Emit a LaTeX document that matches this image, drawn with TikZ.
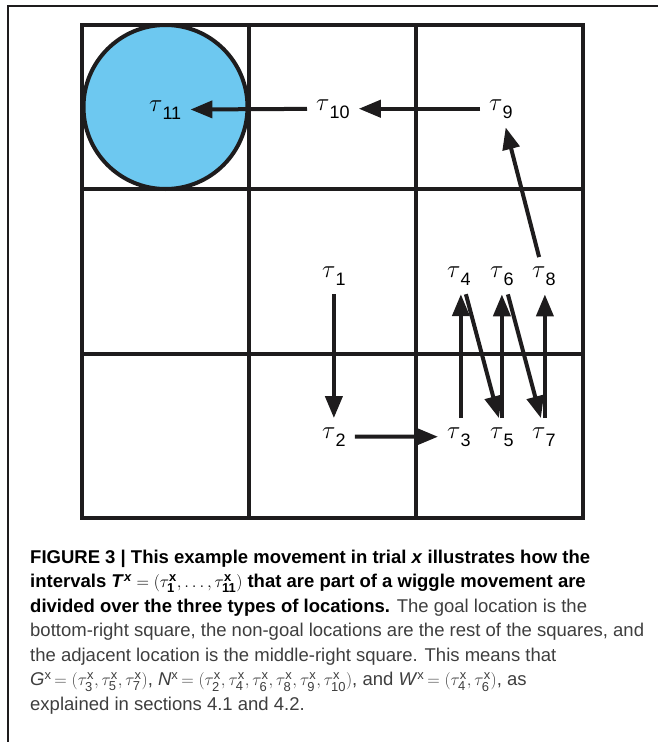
\documentclass[tikz,border=0pt]{standalone}
\usepackage{amsmath}
\usepackage{fontspec}
\setmainfont{Liberation Sans}
\usetikzlibrary{arrows.meta}

% tau label with a sans subscript
\newcommand{\tlab}[1]{$\tau$\raisebox{-8pt}{\fontsize{18}{18}\selectfont #1}}
% caption symbols
\newcommand{\csym}[1]{\textit{#1}$^{\text{x}}$}
\newcommand{\ctau}[1]{\tau^{\text{x}}_{\text{#1}}}

\begin{document}
\begin{tikzpicture}[x=1pt,y=-1pt]
  % colours
  \definecolor{goalblue}{RGB}{109,200,240}
  \definecolor{inkcolor}{RGB}{30,28,29}
  \definecolor{captext}{RGB}{62,62,62}

  % styles
  \tikzstyle{taulabel} = [inner sep=9pt, anchor=base west, font=\fontsize{23}{28}\selectfont]
  \tikzstyle{gridline} = [line width=4pt, inkcolor]
  \tikzstyle{move} = [-{Triangle[length=22pt,width=17pt]}, line width=4pt, inkcolor]

  \useasboundingbox (0,0) rectangle (658,742);

  % frame
  \draw[line width=2pt, inkcolor] (8,742) -- (8,6) -- (658,6);

  % grid of locations
  \draw[gridline] (82,25) rectangle (583,518);
  \foreach \x in {249,416} \draw[gridline] (\x,25) -- (\x,518);
  \foreach \y in {189,354} \draw[gridline] (82,\y) -- (583,\y);

  % goal circle
  \draw[gridline, fill=goalblue] (165.5,107) circle (82pt);

  % intervals
  \node[taulabel] (t1) at (313,277) {\tlab{1}};
  \node[taulabel] (t2) at (313,438) {\tlab{2}};
  \node[taulabel] (t3) at (438,438) {\tlab{3}};
  \node[taulabel] (t4) at (438,277) {\tlab{4}};
  \node[taulabel] (t5) at (481,438) {\tlab{5}};
  \node[taulabel] (t6) at (481,277) {\tlab{6}};
  \node[taulabel] (t7) at (523,438) {\tlab{7}};
  \node[taulabel] (t8) at (523,277) {\tlab{8}};
  \node[taulabel] (t9) at (480,110) {\tlab{9}};
  \node[taulabel] (t10) at (307,110) {\tlab{10}};
  \node[taulabel] (t11) at (140,111) {\tlab{11}};

  % movement
  \draw[move] (t1) -- (t2);
  \draw[move] (t2) -- (t3);
  \draw[move] ([xshift=2pt]t3.north) -- ([xshift=2pt]t4.south);
  \draw[move] ([xshift=7pt]t4.south) -- ([xshift=-3pt]t5.north);
  \draw[move] (t5.north) -- (t6.south);
  \draw[move] ([xshift=6pt]t6.south) -- ([xshift=-3pt]t7.north);
  \draw[move] ([xshift=1pt]t7.north) -- ([xshift=1pt]t8.south);
  \draw[move] (t8) -- (t9);
  \draw[move] (t9) -- (t10);
  \draw[move] (t10) -- (t11);

  % caption (base = last line)
  \node[anchor=base west, align=left, inner sep=0pt, text=captext,
        font=\fontsize{18.5}{24.5}\selectfont] (caption) at (30,710)
  {\textbf{\color{black}FIGURE 3 | This example movement in trial \textit{x} illustrates how the}\\
   \textbf{\color{black}intervals \textit{T}$^{\textit{x}}=(\ctau{1},\ldots,\ctau{11})$ that are part of a wiggle movement are}\\
   \textbf{\color{black}divided over the three types of locations.} The goal location is the\\
   bottom-right square, the non-goal locations are the rest of the squares, and\\
   the adjacent location is the middle-right square. This means that\\
   \csym{G}$\,=(\ctau{3},\ctau{5},\ctau{7})$, \csym{N}$\,=(\ctau{2},\ctau{4},\ctau{6},\ctau{8},\ctau{9},\ctau{10})$, and \csym{W}$\,=(\ctau{4},\ctau{6})$, as\\
   explained in sections 4.1 and 4.2.};
\end{tikzpicture}
\end{document}
